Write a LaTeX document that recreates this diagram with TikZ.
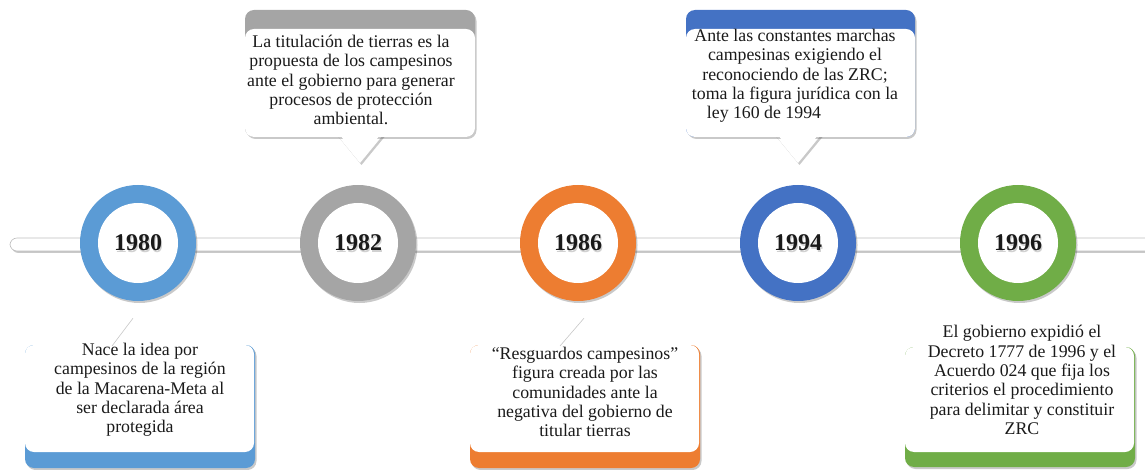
\documentclass[tikz,border=0pt]{standalone}
\usepackage{fontspec}
\setmainfont{Liberation Serif}
\usetikzlibrary{shadows}
\definecolor{cA}{HTML}{5B9BD5}
\definecolor{cB}{HTML}{A5A5A5}
\definecolor{cC}{HTML}{ED7D31}
\definecolor{cD}{HTML}{4472C4}
\definecolor{cE}{HTML}{70AD47}
\definecolor{txtcol}{HTML}{1A1A1A}
\tikzset{
  softshadow/.style={drop shadow={shadow xshift=1.5pt,shadow yshift=-2pt,opacity=.3,fill=black!70}},
  outerring/.style={circle,fill=#1,minimum size=116pt,inner sep=0pt,softshadow},
  innerring/.style={circle,fill=white,minimum size=80pt,inner sep=0pt,font=\fontsize{24}{28}\selectfont\bfseries,text=txtcol},
  yearshadow/.style={font=\fontsize{24}{28}\selectfont\bfseries,text=black,opacity=.18,inner sep=0pt},
  boxtext/.style={align=center,font=\fontsize{17.8}{19.3}\selectfont,text=txtcol,inner sep=0pt},
  bar/.style={fill=white,draw=black!25,line width=.6pt,rounded corners=7pt,softshadow},
  faintedge/.style={black!22,line width=.6pt},
}
\begin{document}
\begin{tikzpicture}[x=1pt,y=-1pt]
\useasboundingbox (0,0) rectangle (1145,470);
% timeline bar
\draw[bar] (10,238) rectangle (1170,251);
% rings
\foreach \yr/\xx/\cc in {1980/138/cA,1982/358/cB,1986/578/cC,1994/798/cD,1996/1018/cE}{
  \node[outerring=\cc] (r\yr) at (\xx,243) {};
  \node[innerring] (y\yr) at (r\yr.center) {};
  \node[yearshadow] (s\yr) at ([xshift=1.2pt,yshift=-1.5pt]r\yr.center) {\yr};
  \node[innerring,fill=none] (n\yr) at (r\yr.center) {\yr};
}
% ---- bottom callout 1980
\fill[cA,rounded corners=9pt,softshadow] (25,345) rectangle (255,468);
\fill[white,rounded corners=9pt] (25,345) rectangle (254,452);
\fill[white] (113,350) -- (133,318) -- (151,350) -- cycle;
\draw[faintedge] (n1980.south) ++(-5,35) coordinate (p1980) -- (112,346);
\node[boxtext] (t1980) at (140,390) {Nace la idea por\\campesinos de la región\\de la Macarena-Meta al\\ser declarada área\\protegida};
% ---- top callout 1982
\fill[white,softshadow] (337,135) -- (360,163) -- (383,135) -- cycle;
\fill[cB,rounded corners=9pt,softshadow] (245,10) rectangle (475,137);
\fill[white,rounded corners=9pt] (245,29) rectangle (475,137);
\fill[white] (338,132) -- (360,162) -- (382,132) -- cycle;
\node[boxtext] (t1982) at (351,80) {La titulación de tierras es la\\propuesta de los campesinos\\ante el gobierno para generar\\procesos de protección\\ambiental.};
% ---- bottom callout 1986
\fill[cC,rounded corners=9pt,softshadow] (470,345) rectangle (700,468);
\fill[white,rounded corners=9pt] (470,345) rectangle (699,452);
\fill[white] (561,350) -- (584,318) -- (601,350) -- cycle;
\draw[faintedge] (n1986.south) ++(6,35) coordinate (p1986) -- (560,346);
\node[boxtext] (t1986) at (585,392) {“Resguardos campesinos”\\figura creada por las\\comunidades ante la\\negativa del gobierno de\\titular tierras};
% ---- top callout 1994
\fill[white,softshadow] (775,135) -- (798,163) -- (821,135) -- cycle;
\fill[cD,rounded corners=9pt,softshadow] (686,10) rectangle (915,137);
\fill[white,rounded corners=9pt] (686,29) rectangle (915,137);
\fill[white] (776,132) -- (798,162) -- (820,132) -- cycle;
\node[boxtext] (t1994) at (795,76) {Ante las constantes marchas\\campesinas exigiendo el\\reconociendo de las ZRC;\\toma la figura jurídica con la\\ley 160 de 1994\hspace*{62pt}};
% ---- bottom callout 1996
\fill[cE,rounded corners=9pt,softshadow] (905,347) rectangle (1135,467);
\fill[white,rounded corners=9pt] (905,347) rectangle (1134,452);
\node[boxtext] (t1996) at (1022,380) {El gobierno expidió el\\Decreto 1777 de 1996 y el\\Acuerdo 024 que fija los\\criterios el procedimiento\\para delimitar y constituir\\ZRC};
\end{tikzpicture}
\end{document}
